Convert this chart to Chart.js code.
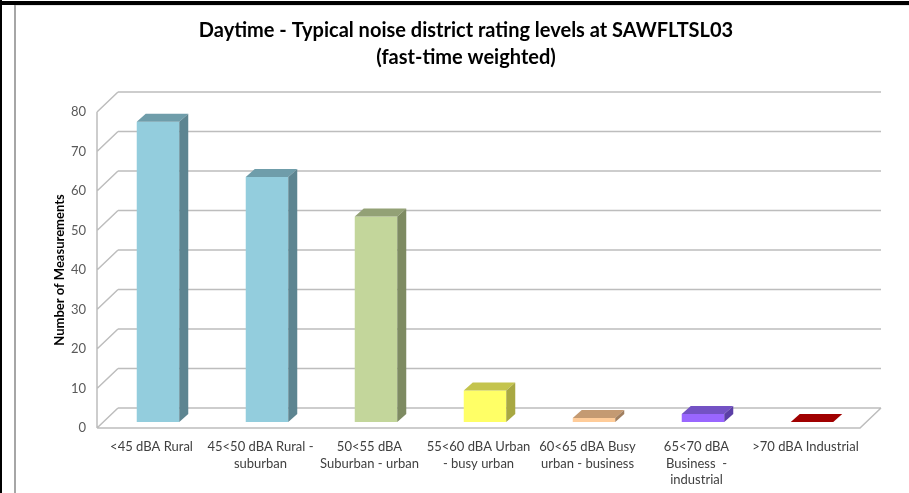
<!DOCTYPE html>
<html>
<head>
<meta charset="utf-8">
<script src="https://cdn.jsdelivr.net/npm/chart.js@4/dist/chart.umd.min.js"></script>
<style>
  html, body { margin: 0; padding: 0; background: #fff; }
  #wrap { position: relative; width: 909px; height: 493px; overflow: hidden; }
  canvas { position: absolute; left: 0; top: 0; }
  .ln { position: absolute; pointer-events: none; }
</style>
</head>
<body>
<div id="wrap">
  <canvas id="c" width="909" height="493"></canvas>
  <div class="ln" style="left:0;top:0;width:2px;height:493px;background:#000"></div>
  <div class="ln" style="left:0;top:1px;width:909px;height:4px;background:#000"></div>
  <div class="ln" style="left:14px;top:5px;width:2px;height:488px;background:#A6A6A6"></div>
  <div class="ln" style="left:16px;top:5px;width:893px;height:1px;background:#E6E6E6"></div>
</div>
<script>
// ---- data ----
const categories = [
  ["<45 dBA Rural"],
  ["45<50 dBA Rural -", "suburban"],
  ["50<55 dBA", "Suburban - urban"],
  ["55<60 dBA Urban", "- busy urban"],
  ["60<65 dBA Busy", "urban - business"],
  ["65<70 dBA", "Business  -", "industrial"],
  [">70 dBA Industrial"]
];
const measurements = [76, 62, 52, 8, 1, 2, 0];
const yMin = 0;
const yMax = 80;
const yStep = 10;
const chartTitle = ["Daytime - Typical noise district rating levels at SAWFLTSL03", "(fast-time weighted)"];
const yAxisTitle = "Number of Measurements";

// ---- styles ----
const frontColors = ['#93CDDD', '#93CDDD', '#C3D69B', '#FFFF66', '#FFCC99', '#9966FF', '#990000'];
const topColors   = ['#6F9DAA', '#6F9DAA', '#93A176', '#C4C44D', '#C49A72', '#7352C4', '#A00000'];
const sideColors  = ['#5D8591', '#5D8591', '#7E8B62', '#A8A842', '#A17F5F', '#5B3FA6', '#7A0000'];
const FONT = "Lato, 'Open Sans', sans-serif";

const WALL = { dx: 21, dy: -20 };
const BAR_OFF = { dx: 6.5, dy: -6 };
const BAR_DEPTH = { dx: 9, dy: -8 };

const pseudo3d = {
  id: 'pseudo3d',
  beforeDatasetsDraw(chart) {
    const { ctx, chartArea: { left, right, bottom }, scales: { y } } = chart;
    ctx.save();
    ctx.strokeStyle = '#BDBDBD';
    ctx.lineWidth = 1.5;
    ctx.beginPath();
    y.ticks.forEach(t => {
      const py = y.getPixelForValue(t.value);
      ctx.moveTo(left + WALL.dx, py + WALL.dy);
      ctx.lineTo(right + WALL.dx, py + WALL.dy);
      ctx.moveTo(left, py);
      ctx.lineTo(left + WALL.dx, py + WALL.dy);
    });
    ctx.moveTo(left, y.getPixelForValue(yMax));
    ctx.lineTo(left, bottom);
    ctx.moveTo(left, bottom);
    ctx.lineTo(right, bottom);
    ctx.lineTo(right + WALL.dx, bottom + WALL.dy);
    ctx.stroke();
    ctx.restore();
    ctx.save();
    ctx.translate(BAR_OFF.dx, BAR_OFF.dy);
  },
  afterDatasetsDraw(chart) {
    const { ctx } = chart;
    const meta = chart.getDatasetMeta(0);
    meta.data.forEach((bar, i) => {
      const p = bar.getProps(['x', 'y', 'base', 'width'], true);
      const l = p.x - p.width / 2, r = p.x + p.width / 2;
      const t = Math.min(p.y, p.base), b = Math.max(p.y, p.base);
      ctx.fillStyle = topColors[i];
      ctx.beginPath();
      ctx.moveTo(l, t);
      ctx.lineTo(r, t);
      ctx.lineTo(r + BAR_DEPTH.dx, t + BAR_DEPTH.dy);
      ctx.lineTo(l + BAR_DEPTH.dx, t + BAR_DEPTH.dy);
      ctx.closePath();
      ctx.fill();
      if (b - t > 0.5) {
        ctx.fillStyle = sideColors[i];
        ctx.beginPath();
        ctx.moveTo(r, t);
        ctx.lineTo(r + BAR_DEPTH.dx, t + BAR_DEPTH.dy);
        ctx.lineTo(r + BAR_DEPTH.dx, b + BAR_DEPTH.dy);
        ctx.lineTo(r, b);
        ctx.closePath();
        ctx.fill();
      }
    });
    ctx.restore();
  }
};

new Chart(document.getElementById('c'), {
  type: 'bar',
  data: {
    labels: categories,
    datasets: [{
      data: measurements,
      backgroundColor: frontColors,
      borderWidth: 0,
      barPercentage: 0.39,
      categoryPercentage: 1,
      clip: false
    }]
  },
  plugins: [pseudo3d],
  options: {
    responsive: false,
    animation: false,
    events: [],
    layout: { padding: { left: 23, right: 0, top: 5, bottom: 0 } },
    plugins: {
      legend: { display: false },
      tooltip: { enabled: false },
      title: {
        display: true,
        text: chartTitle,
        color: '#000',
        font: { family: FONT, size: 20, weight: 'bold', lineHeight: 1.35 },
        padding: { top: 12, bottom: 41 }
      }
    },
    scales: {
      x: {
        offset: true,
        grid: { display: false },
        border: { display: false },
        ticks: {
          color: '#404040',
          font: { family: FONT, size: 13, lineHeight: 1.3 },
          padding: 2,
          maxRotation: 0,
          autoSkip: false
        },
        afterFit(scale) { scale.height = 65; }
      },
      y: {
        min: yMin,
        max: yMax,
        grid: { display: false, drawTicks: false },
        border: { display: false },
        ticks: {
          stepSize: yStep,
          color: '#595959',
          font: { family: FONT, size: 13 },
          padding: 11
        },
        title: {
          display: true,
          text: yAxisTitle,
          color: '#000',
          font: { family: FONT, size: 13, weight: 'bold' },
          padding: { top: 29, bottom: 0 }
        },
        afterFit(scale) { scale.width = 74; }
      },
      yRight: {
        type: 'linear',
        position: 'right',
        display: true,
        grid: { display: false, drawTicks: false },
        border: { display: false },
        ticks: { display: false },
        afterFit(scale) { scale.width = 49; }
      }
    }
  }
});
</script>
</body>
</html>
